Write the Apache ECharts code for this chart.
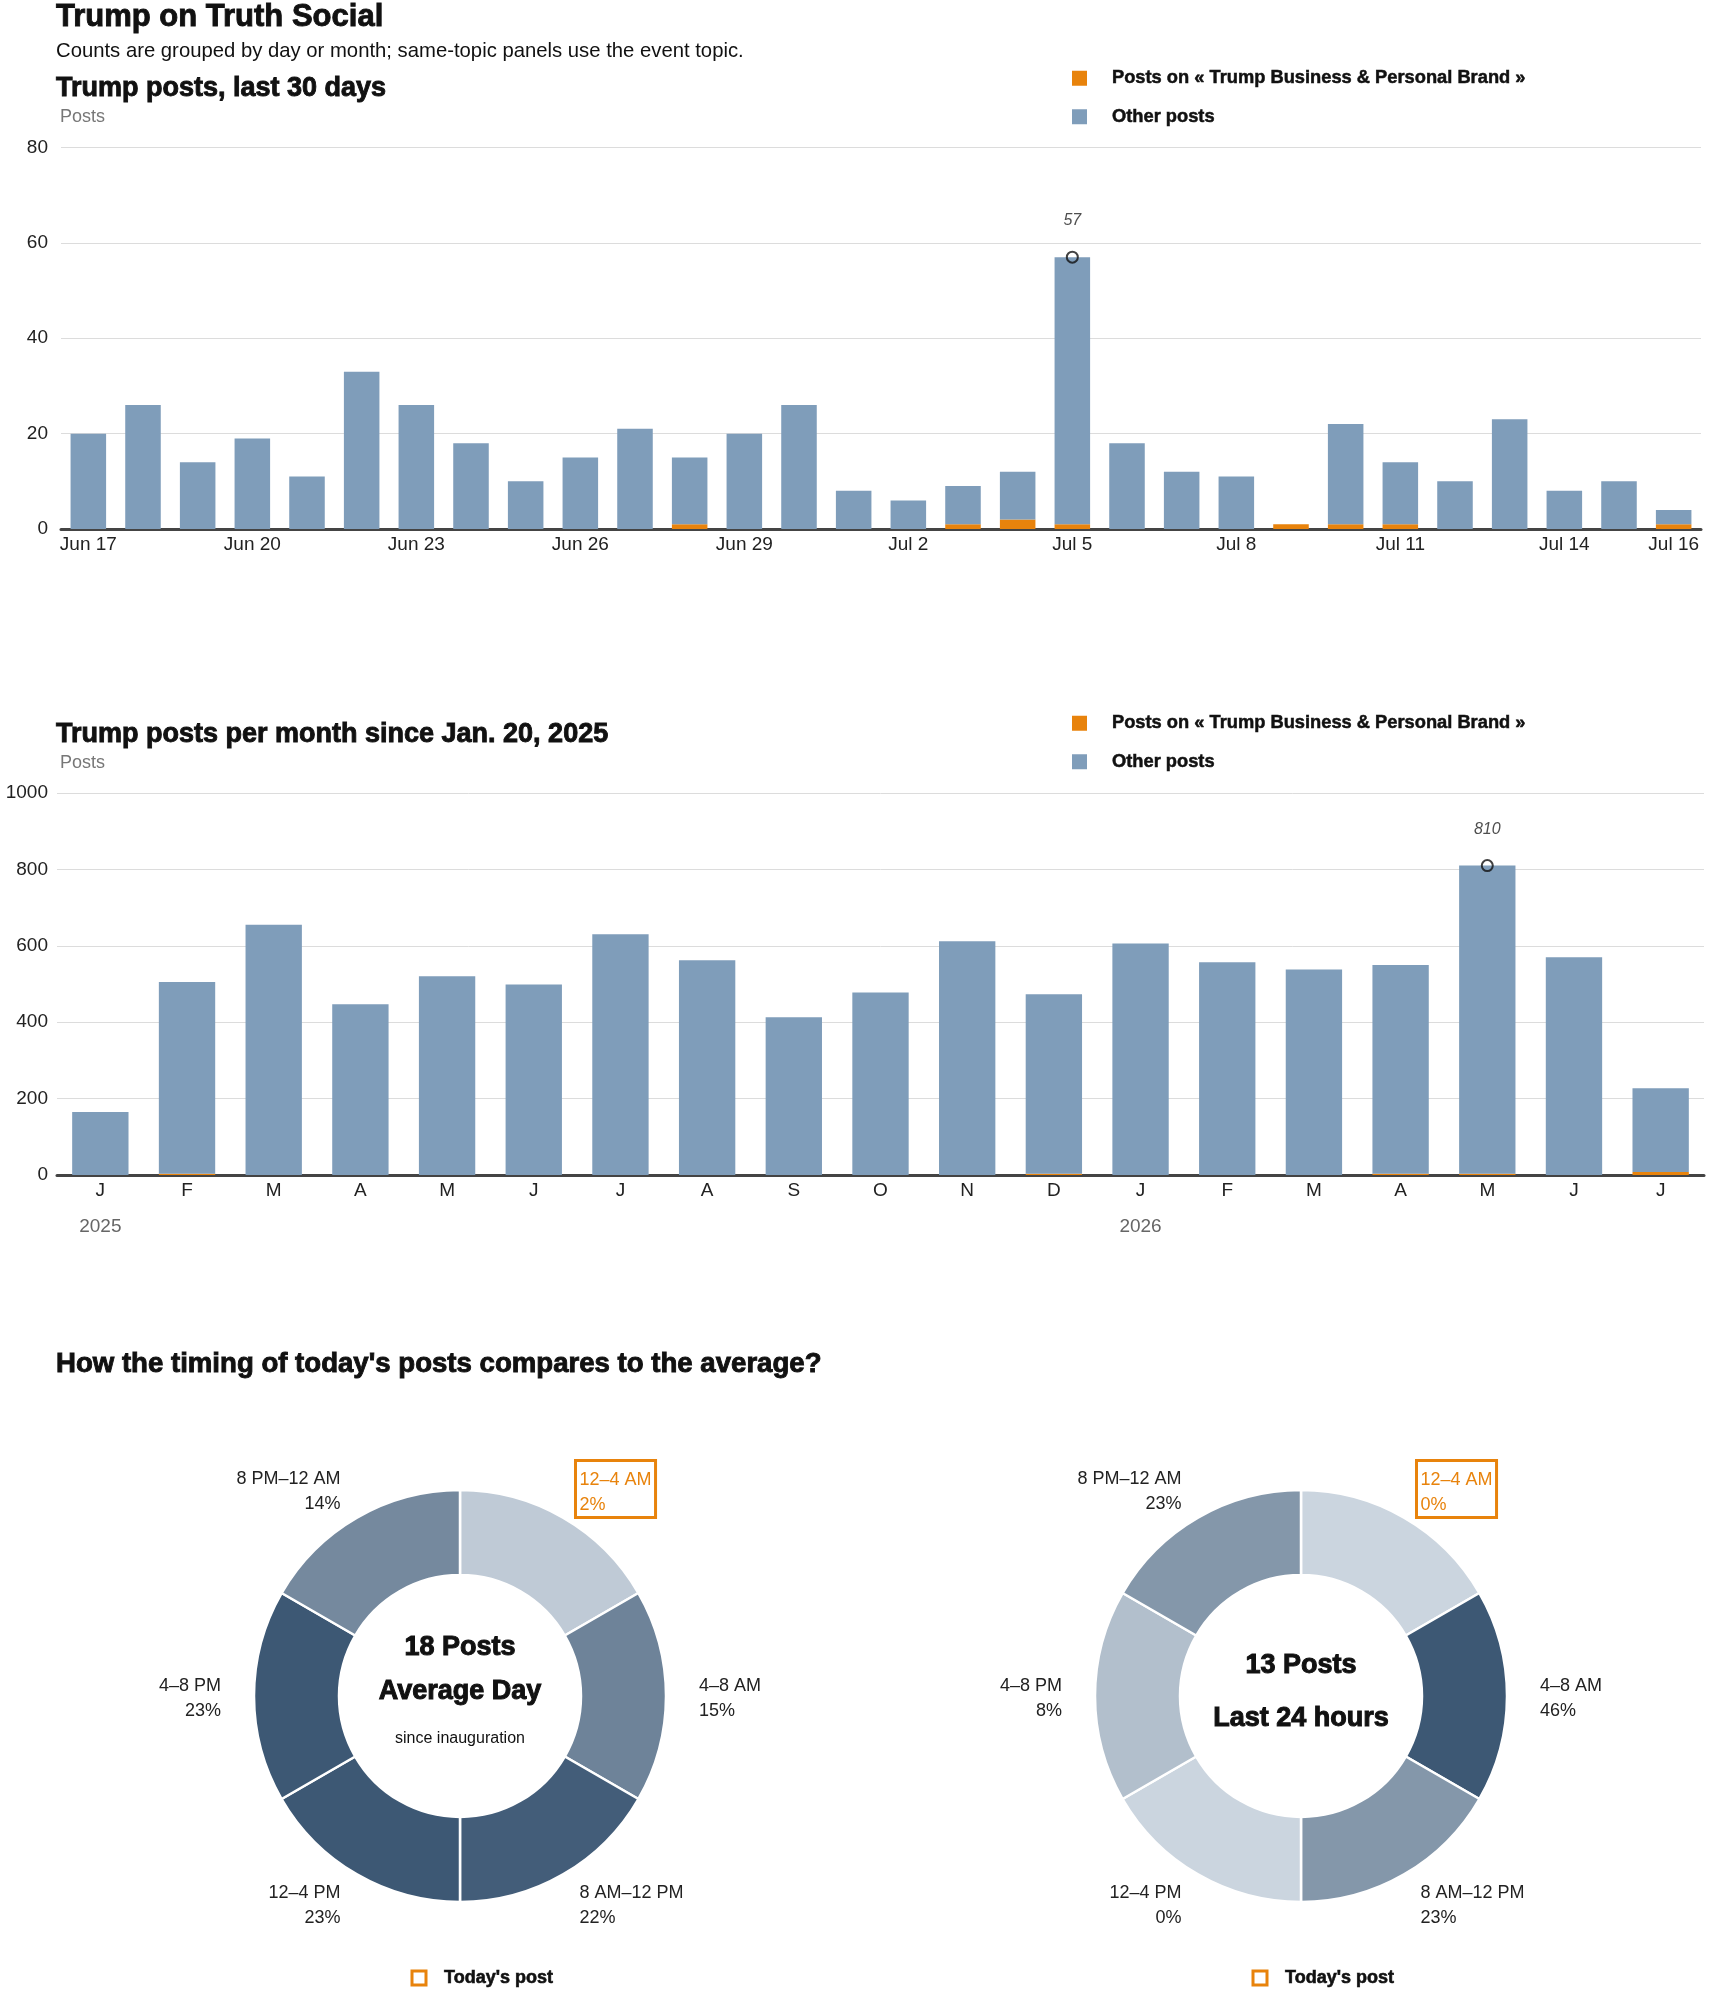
<!DOCTYPE html>
<html>
<head>
<meta charset="utf-8">
<script src="https://cdn.jsdelivr.net/npm/echarts@6/dist/echarts.min.js"></script>
<style>
html,body{margin:0;padding:0;background:#fff;}
#c{width:1710px;height:1993px;}
</style>
</head>
<body>
<div id="c"></div>
<script>
// ---------- DATA ----------
const days = ['Jun 17','Jun 18','Jun 19','Jun 20','Jun 21','Jun 22','Jun 23','Jun 24','Jun 25','Jun 26','Jun 27','Jun 28','Jun 29','Jun 30','Jul 1','Jul 2','Jul 3','Jul 4','Jul 5','Jul 6','Jul 7','Jul 8','Jul 9','Jul 10','Jul 11','Jul 12','Jul 13','Jul 14','Jul 15','Jul 16'];
const dayTotal = [20,26,14,19,11,33,26,18,10,15,21,15,20,26,8,6,9,12,57,18,12,11,1,22,14,10,23,8,10,4];
const dayTopic = [0,0,0,0,0,0,0,0,0,0,0,1,0,0,0,0,1,2,1,0,0,0,1,1,1,0,0,0,0,1];
const dayTickIdx = [0,3,6,9,12,15,18,21,24,27,29];

const months = ['J','F','M','A','M','J','J','A','S','O','N','D','J','F','M','A','M','J','J'];
const monthYears = ['2025','','','','','','','','','','','','2026','','','','','',''];
const monthTotal = [165,505,655,447,520,499,630,562,413,478,612,473,606,557,538,550,810,570,227];
const monthTopic = [0,3,0,0,0,0,0,0,0,0,0,3,0,0,0,3,3,0,8];

const dayTicksY = {min:0, max:80, interval:20};
const monthTicksY = {min:0, max:1000, interval:200};

const slotNames = ['12–4 AM','4–8 AM','8 AM–12 PM','12–4 PM','4–8 PM','8 PM–12 AM'];
const avgPct = [2,15,22,23,23,14];
const todayPct = [0,46,23,0,8,23];
const highlightSlot = 0;

const topicName = 'Posts on « Trump Business & Personal Brand »';
const otherName = 'Other posts';

// ---------- STYLE ----------
const F = "'Liberation Sans', Arial, sans-serif";
const ORANGE = '#e8830c';
const BLUE = '#7f9dba';
const LIGHT = [203,213,223], DARK = [61,88,116];

function shade(p, max){
  const t = max ? p/max : 0;
  const c = LIGHT.map((l,i)=>Math.round(l + (DARK[i]-l)*t));
  return 'rgb(' + c.join(',') + ')';
}
function other(tot, top){ return tot.map((v,i)=>v - top[i]); }
function peak(arr){ let m = 0; arr.forEach((v,i)=>{ if(v > arr[m]) m = i; }); return [[m, arr[m]]]; }

function pieSeries(center, pcts){
  const max = Math.max.apply(null, pcts);
  return {
    type:'pie', center:center, radius:[121,206], startAngle:90, clockwise:true,
    avoidLabelOverlap:false, silent:true, emphasis:{disabled:true},
    itemStyle:{borderColor:'#fff', borderWidth:2.5},
    label:{show:true, position:'outside', fontFamily:F, fontSize:18, lineHeight:25, color:'#222',
      distanceToLabelLine:0,
      formatter: p => '{s| }\n' + p.name + '\n' + pcts[p.dataIndex] + '%',
      rich:{s:{fontSize:6, lineHeight:6, height:6}}},
    labelLine:{show:false, length:33, length2:0},
    data: slotNames.map((n,i)=>{
      const d = {name:n, value:1, itemStyle:{color:shade(pcts[i], max)}};
      if(i === highlightSlot){
        d.label = {color:ORANGE, borderColor:ORANGE, borderWidth:3, padding:[1,4,0,4], distanceToLabelLine:-4};
      }
      return d;
    })
  };
}

const axisLbl = {fontFamily:F, fontSize:19, color:'#222'};
const heavy = {textBorderColor:'#111', textBorderWidth:0.9};
const titleStyle = (sz) => Object.assign({fontFamily:F, fontSize:sz, fontWeight:'bold', color:'#111'}, heavy);

const legendBase = {
  orient:'vertical', icon:'rect', itemWidth:15, itemHeight:15, itemGap:20, padding:0,
  data:[topicName, otherName], selectedMode:false,
  textStyle:{fontFamily:F, fontSize:18.3, fontWeight:'bold', color:'#111', padding:[0,0,0,20],
    textBorderColor:'#111', textBorderWidth:0.5}
};

const peakLabel = {show:true, position:'top', distance:22, fontFamily:"'Liberation Sans Narrow', Arial, sans-serif",
  fontStyle:'italic', fontSize:16, color:'#222', formatter: p => p.value[1]};
const peakItem = {color:'rgba(0,0,0,0)', borderColor:'#111', borderWidth:2};

const centerText = (x, y, text, size, bold) => ({type:'text', x:x, y:y, style:Object.assign({text:text, fontFamily:F, fontSize:size,
  fontWeight: bold ? 'bold' : 'normal', fill:'#111', textAlign:'center', verticalAlign:'middle', textVerticalAlign:'middle'},
  bold ? {stroke:'#111', lineWidth:1} : {})});

const option = {
  animation:false,
  backgroundColor:'#fff',
  title:[
    {text:'Trump on Truth Social', left:56, top:2, padding:0, textStyle:titleStyle(31)},
    {text:'Counts are grouped by day or month; same-topic panels use the event topic.', left:56, top:41, padding:0,
      textStyle:{fontFamily:F, fontSize:20.3, fontWeight:'normal', color:'#111'}},
    {text:'Trump posts, last 30 days', left:56, top:75, padding:0, textStyle:titleStyle(27)},
    {text:'Posts', left:60, top:108, padding:0, textStyle:{fontFamily:F, fontSize:18, fontWeight:'normal', color:'#777'}},
    {text:'Trump posts per month since Jan. 20, 2025', left:56, top:721, padding:0, textStyle:titleStyle(27)},
    {text:'Posts', left:60, top:754, padding:0, textStyle:{fontFamily:F, fontSize:18, fontWeight:'normal', color:'#777'}},
    {text:"How the timing of today's posts compares to the average?", left:56, top:1350, padding:0, textStyle:titleStyle(27.6)}
  ],
  legend:[
    Object.assign({left:1072, top:69}, legendBase),
    Object.assign({left:1072, top:714}, legendBase)
  ],
  grid:[
    {left:61, right:9, top:147.5, height:381.5},
    {left:57, right:6, top:793, height:382}
  ],
  xAxis:[
    {type:'category', gridIndex:0, data:days,
      axisLine:{lineStyle:{color:'#444', width:3}}, axisTick:{show:false},
      axisLabel:Object.assign({margin:6, interval:(i)=>dayTickIdx.indexOf(i) >= 0}, axisLbl)},
    {type:'category', gridIndex:1, data:months, position:'bottom',
      axisLine:{lineStyle:{color:'#444', width:3}}, axisTick:{show:false},
      axisLabel:Object.assign({margin:6, interval:0}, axisLbl)},
    {type:'category', gridIndex:1, data:monthYears, position:'bottom', offset:0,
      axisLine:{show:false}, axisTick:{show:false},
      axisLabel:{margin:42, interval:0, fontFamily:F, fontSize:19, color:'#666'}}
  ],
  yAxis:[
    Object.assign({type:'value', gridIndex:0,
      axisLine:{show:false}, axisTick:{show:false},
      splitLine:{lineStyle:{color:'#dcdcdc', width:1}},
      axisLabel:Object.assign({margin:13, formatter:v=>String(v)}, axisLbl)}, dayTicksY),
    Object.assign({type:'value', gridIndex:1,
      axisLine:{show:false}, axisTick:{show:false},
      splitLine:{lineStyle:{color:'#dcdcdc', width:1}},
      axisLabel:Object.assign({margin:9, formatter:v=>String(v)}, axisLbl)}, monthTicksY)
  ],
  series:[
    {name:topicName, type:'bar', xAxisIndex:0, yAxisIndex:0, stack:'d', barCategoryGap:'35%',
      itemStyle:{color:ORANGE}, data:dayTopic, silent:true},
    {name:otherName, type:'bar', xAxisIndex:0, yAxisIndex:0, stack:'d', barCategoryGap:'35%',
      itemStyle:{color:BLUE}, data:other(dayTotal, dayTopic), silent:true},
    {name:'peakDay', type:'scatter', xAxisIndex:0, yAxisIndex:0, symbol:'circle', symbolSize:11, z:5,
      itemStyle:peakItem, label:peakLabel, data:peak(dayTotal), silent:true},
    {name:topicName, type:'bar', xAxisIndex:1, yAxisIndex:1, stack:'m', barCategoryGap:'35%',
      itemStyle:{color:ORANGE}, data:monthTopic, silent:true},
    {name:otherName, type:'bar', xAxisIndex:1, yAxisIndex:1, stack:'m', barCategoryGap:'35%',
      itemStyle:{color:BLUE}, data:other(monthTotal, monthTopic), silent:true},
    {name:'peakMonth', type:'scatter', xAxisIndex:1, yAxisIndex:1, symbol:'circle', symbolSize:11, z:5,
      itemStyle:peakItem, label:peakLabel, data:peak(monthTotal), silent:true},
    pieSeries([460,1696], avgPct),
    pieSeries([1301,1696], todayPct)
  ],
  graphic:[
    centerText(460, 1648, '18 Posts', 27, true),
    centerText(460, 1692, 'Average Day', 27, true),
    centerText(460, 1739, 'since inauguration', 16, false),
    centerText(1301, 1666, '13 Posts', 27, true),
    centerText(1301, 1719, 'Last 24 hours', 27, true),
    {type:'rect', shape:{x:412, y:1971, width:14, height:14}, style:{fill:'#fff', stroke:ORANGE, lineWidth:3}},
    {type:'text', x:444, y:1978, style:{text:"Today's post", fontFamily:F, fontSize:18, fontWeight:'bold', fill:'#111', stroke:'#111', lineWidth:0.6, verticalAlign:'middle', textVerticalAlign:'middle'}},
    {type:'rect', shape:{x:1253, y:1971, width:14, height:14}, style:{fill:'#fff', stroke:ORANGE, lineWidth:3}},
    {type:'text', x:1285, y:1978, style:{text:"Today's post", fontFamily:F, fontSize:18, fontWeight:'bold', fill:'#111', stroke:'#111', lineWidth:0.6, verticalAlign:'middle', textVerticalAlign:'middle'}}
  ]
};

const chart = echarts.init(document.getElementById('c'), null, {renderer:'canvas'});
chart.setOption(option);
</script>
</body>
</html>
